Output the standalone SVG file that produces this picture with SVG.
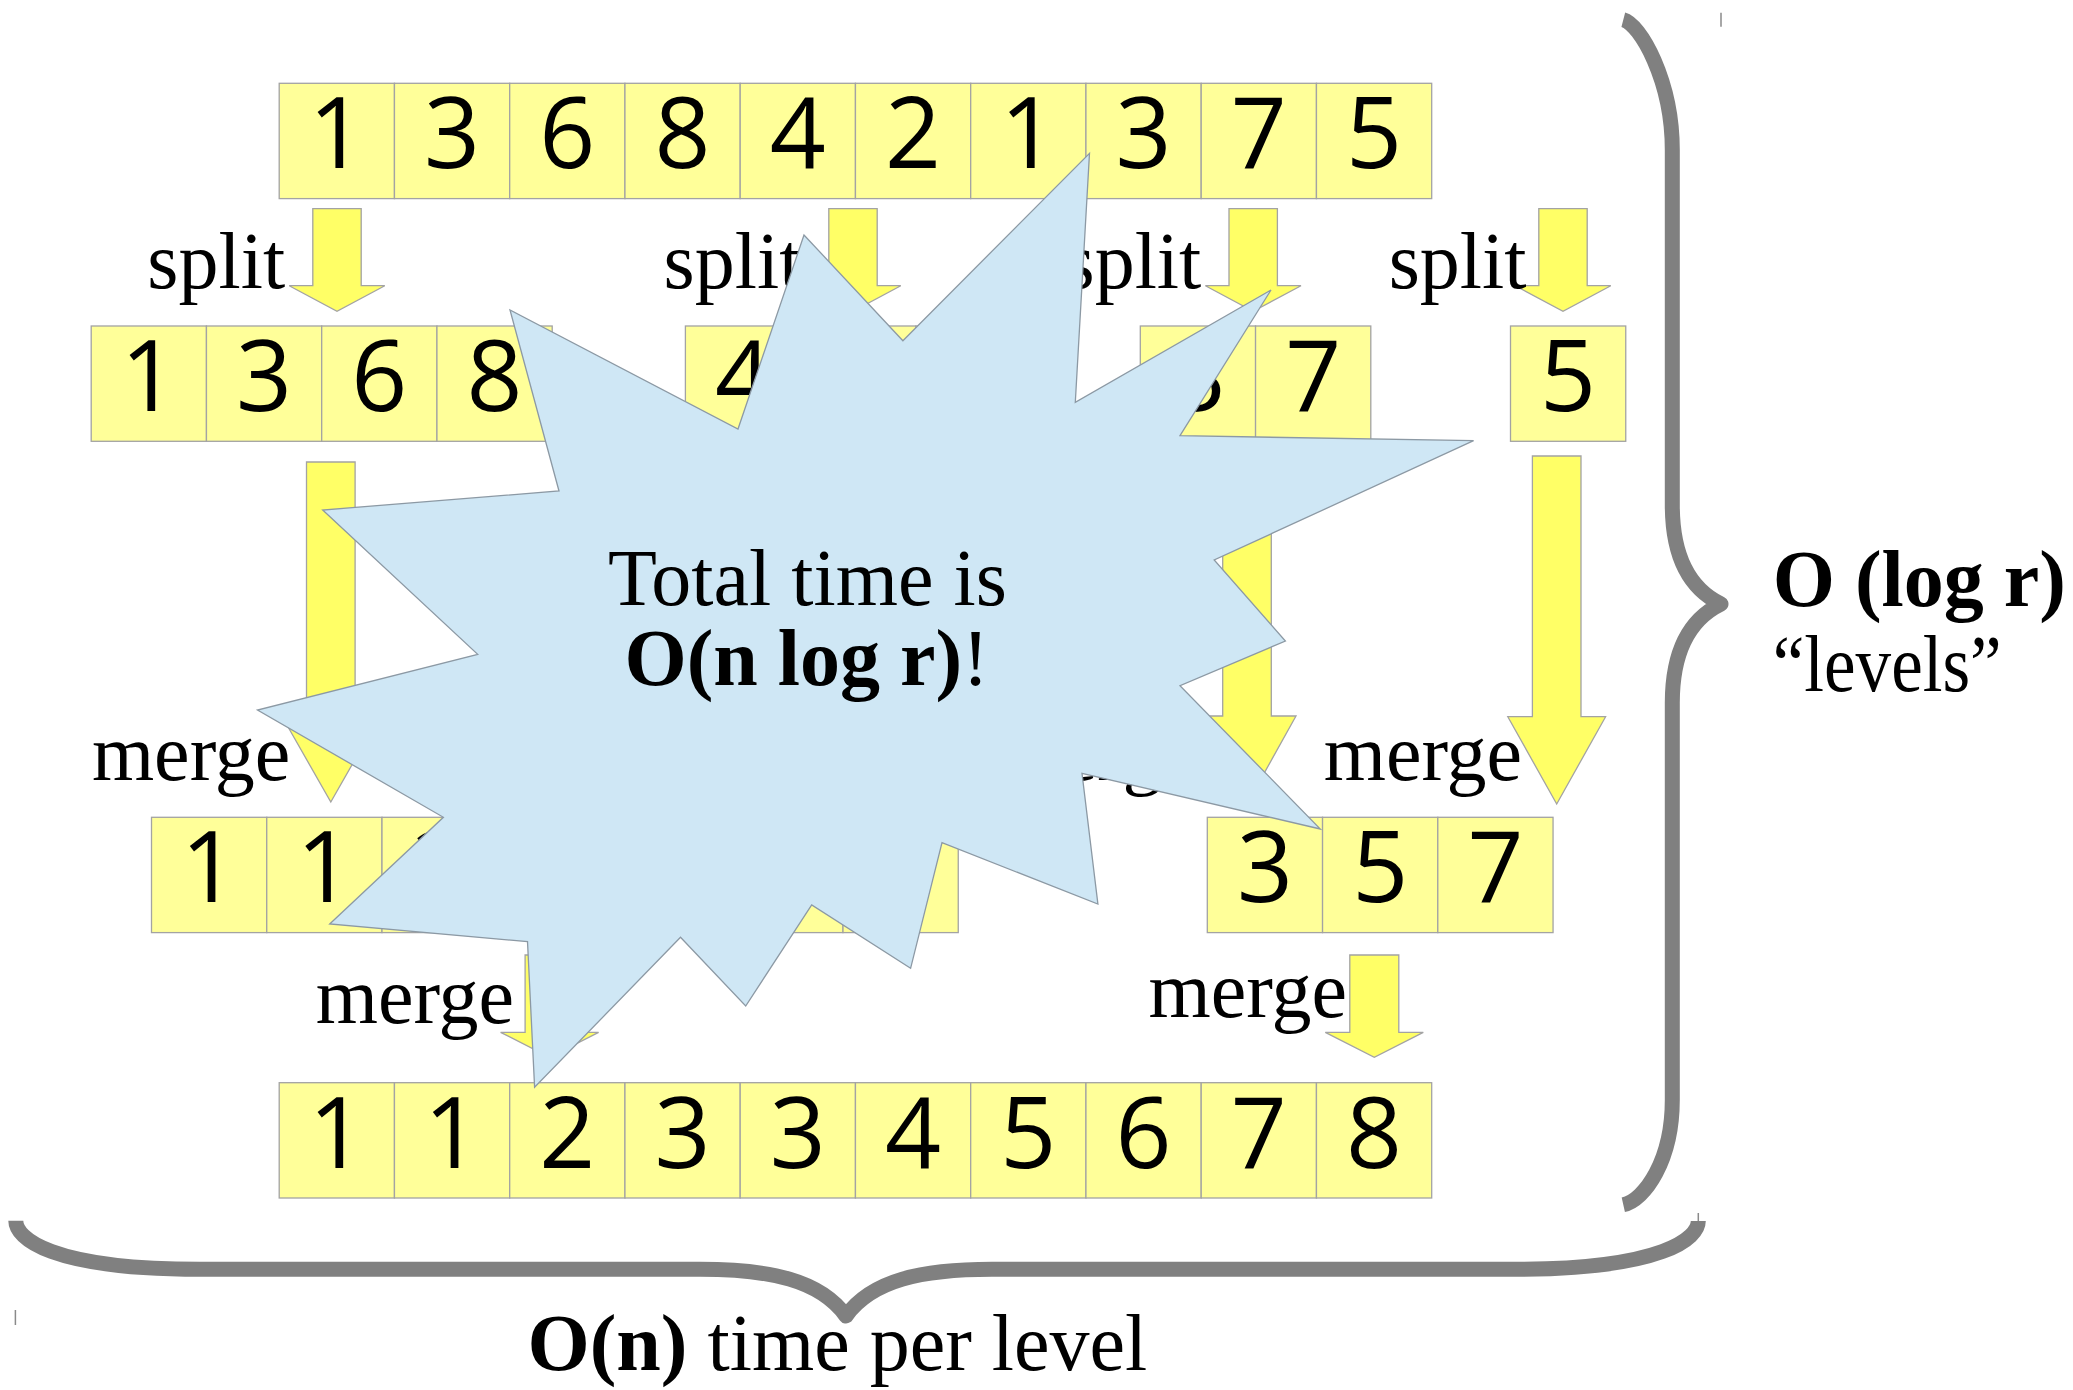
<svg xmlns="http://www.w3.org/2000/svg" width="2073" height="1390" viewBox="0 0 2073 1390">
<style>
.c{fill:#ffff99;stroke:#a3a3a3;stroke-width:1.3}
.d{font-family:"Open Sans","Noto Sans",sans-serif;font-size:98px;fill:#000;text-anchor:middle}
.a{fill:#ffff66;stroke:#a3a3a3;stroke-width:1.3}
.l{font-family:"Liberation Serif","Times New Roman",serif;font-size:80px;fill:#000}
.b{font-weight:bold}
.br{fill:none;stroke:#808080;stroke-width:15;stroke-linejoin:round}
.tk{stroke:#8a8a8a;stroke-width:1.5}
</style>
<defs>
<g id="cell"><rect class="c" x="0" y="0" width="115.25" height="115.3"/></g>
</defs>
<rect width="2073" height="1390" fill="#fff"/>

<!-- Row 1 -->
<g id="row1">
<use href="#cell" x="279.2" y="83.3"/><use href="#cell" x="394.45" y="83.3"/><use href="#cell" x="509.7" y="83.3"/><use href="#cell" x="624.95" y="83.3"/><use href="#cell" x="740.2" y="83.3"/><use href="#cell" x="855.45" y="83.3"/><use href="#cell" x="970.7" y="83.3"/><use href="#cell" x="1085.95" y="83.3"/><use href="#cell" x="1201.2" y="83.3"/><use href="#cell" x="1316.45" y="83.3"/>
<text class="d" y="168.3"><tspan x="336.8">1</tspan><tspan x="452.1">3</tspan><tspan x="567.3">6</tspan><tspan x="682.6">8</tspan><tspan x="797.8">4</tspan><tspan x="913.1">2</tspan><tspan x="1028.3">1</tspan><tspan x="1143.6">3</tspan><tspan x="1258.8">7</tspan><tspan x="1374.1">5</tspan></text>
</g>

<!-- Row 2 -->
<g id="row2-a">
<use href="#cell" x="91.2" y="326"/><use href="#cell" x="206.45" y="326"/><use href="#cell" x="321.7" y="326"/><use href="#cell" x="436.95" y="326"/>
<text class="d" y="411"><tspan x="148.8">1</tspan><tspan x="264.1">3</tspan><tspan x="379.3">6</tspan><tspan x="494.6">8</tspan></text>
</g>
<g id="row2-b">
<use href="#cell" x="685.4" y="326"/><use href="#cell" x="800.65" y="326"/><use href="#cell" x="915.9" y="326"/>
<text class="d" y="411"><tspan x="743">4</tspan><tspan x="858.3">2</tspan><tspan x="973.5">1</tspan></text>
</g>
<g id="row2-c">
<use href="#cell" x="1140.3" y="326"/><use href="#cell" x="1255.55" y="326"/>
<text class="d" y="411"><tspan x="1197.9">3</tspan><tspan x="1313.2">7</tspan></text>
</g>
<g id="row2-d">
<use href="#cell" x="1510.5" y="326"/>
<text class="d" y="411" x="1568.1">5</text>
</g>

<!-- Row 3 -->
<g id="row3-a">
<use href="#cell" x="151.5" y="817.3"/><use href="#cell" x="266.75" y="817.3"/><use href="#cell" x="382" y="817.3"/><use href="#cell" x="497.25" y="817.3"/><use href="#cell" x="612.5" y="817.3"/><use href="#cell" x="727.75" y="817.3"/><use href="#cell" x="843" y="817.3"/>
<text class="d" y="902.3"><tspan x="209.1">1</tspan><tspan x="324.4">1</tspan><tspan x="439.6">2</tspan><tspan x="554.9">3</tspan><tspan x="670.1">4</tspan><tspan x="785.4">6</tspan><tspan x="900.6">8</tspan></text>
</g>
<g id="row3-b">
<use href="#cell" x="1207.3" y="817.3"/><use href="#cell" x="1322.55" y="817.3"/><use href="#cell" x="1437.8" y="817.3"/>
<text class="d" y="902.3"><tspan x="1264.9">3</tspan><tspan x="1380.2">5</tspan><tspan x="1495.4">7</tspan></text>
</g>

<!-- Row 4 -->
<g id="row4">
<use href="#cell" x="279.2" y="1082.7"/><use href="#cell" x="394.45" y="1082.7"/><use href="#cell" x="509.7" y="1082.7"/><use href="#cell" x="624.95" y="1082.7"/><use href="#cell" x="740.2" y="1082.7"/><use href="#cell" x="855.45" y="1082.7"/><use href="#cell" x="970.7" y="1082.7"/><use href="#cell" x="1085.95" y="1082.7"/><use href="#cell" x="1201.2" y="1082.7"/><use href="#cell" x="1316.45" y="1082.7"/>
<text class="d" y="1167.7"><tspan x="336.8">1</tspan><tspan x="452.1">1</tspan><tspan x="567.3">2</tspan><tspan x="682.6">3</tspan><tspan x="797.8">3</tspan><tspan x="913.1">4</tspan><tspan x="1028.3">5</tspan><tspan x="1143.6">6</tspan><tspan x="1258.8">7</tspan><tspan x="1374.1">8</tspan></text>
</g>

<!-- Connectors -->
<g id="connectors">
<path class="a" d="M312.8,208.7 H361.2 V285.7 H384.8 L337,311.3 L289.2,285.7 H312.8 Z"/>
<path class="a" d="M828.8,208.7 H877.2 V285.7 H900.8 L853,311.3 L805.2,285.7 H828.8 Z"/>
<path class="a" d="M1229,208.7 H1277.4 V285.7 H1301 L1253.2,311.3 L1205.4,285.7 H1229 Z"/>
<path class="a" d="M1538.8,208.7 H1587.2 V285.7 H1610.8 L1563,311.3 L1515.2,285.7 H1538.8 Z"/>
<path class="a" d="M306.5,462 H355.1 V716 H379.8 L330.8,802 L281.8,716 H306.5 Z"/>
<path class="a" d="M1222.7,459 H1271.3 V716 H1296 L1247,804 L1198,716 H1222.7 Z"/>
<path class="a" d="M1532.4,456 H1581 V716.7 H1605.6 L1556.7,804 L1507.8,716.7 H1532.4 Z"/>
<path class="a" d="M525.1,955 H574.1 V1032.3 H598.6 L549.6,1057.3 L500.6,1032.3 H525.1 Z"/>
<path class="a" d="M1349.8,955 H1398.8 V1032.3 H1423.3 L1374.3,1057.3 L1325.3,1032.3 H1349.8 Z"/>
</g>

<!-- Labels -->
<g id="labels">
<text class="l" x="147.3" y="288.3">split</text>
<text class="l" x="663.6" y="288.3">split</text>
<text class="l" x="1063.5" y="288.3">split</text>
<text class="l" x="1388.7" y="288.3">split</text>
<text class="l" x="91.9" y="780">merge</text>
<text class="l" x="999.5" y="780">merge</text>
<text class="l" x="1323.7" y="780">merge</text>
<text class="l" x="315.7" y="1023">merge</text>
<text class="l" x="1148.5" y="1017">merge</text>
</g>

<!-- Star callout -->
<g id="star">
<polygon fill="#cfe7f5" stroke="#8c99a4" stroke-width="1.3" stroke-linejoin="miter" points="1089.5,153.3 1075.3,402.3 1271,290 1180,435.7 1473.6,440.7 1214.2,560 1285.4,641 1180,685.7 1320.3,829 1082,773.3 1097.9,904 942,842.7 910.6,968.3 811.7,905 745.7,1006 680.5,937.3 534.6,1087.3 527.5,941.7 329.7,924 443.4,817.3 257.5,710 477.7,654.3 322.7,510 559,491 510,310 738,429 804,235 902.9,340.7"/>
<text class="l" x="807.4" y="605" text-anchor="middle">Total time is</text>
<text class="l" x="806.7" y="685" text-anchor="middle"><tspan class="b">O(n log r)</tspan>!</text>
</g>

<!-- Right brace -->
<g id="brace-right">
<path class="br" d="M1623.3,19.7 C1640,24 1672.3,80 1672.3,150 L1672.3,505 C1672.3,545 1682,585 1721,604 C1682,623 1672.3,663 1672.3,703 L1672.3,1100 C1672.3,1160 1645,1200 1623.3,1204.8"/>
<line class="tk" x1="1721" y1="12.7" x2="1721" y2="26.7"/>
<text class="l b" x="1772.7" y="606">O (log r)</text>
<text class="l" x="1772.7" y="691" font-size="74" textLength="229" lengthAdjust="spacingAndGlyphs">“levels”</text>
</g>

<!-- Bottom brace -->
<g id="brace-bottom">
<path class="br" d="M15.8,1220.7 C15.8,1238 50,1269.3 200,1269.3 L700,1269.3 C770,1269.3 820,1280 846,1316 C872,1280 922,1269.3 992,1269.3 L1514,1269.3 C1664,1269.3 1698.3,1238 1698.3,1221"/>
<line class="tk" x1="1698.3" y1="1213" x2="1698.3" y2="1221"/>
<line class="tk" x1="15.4" y1="1310" x2="15.4" y2="1325"/>
<text class="l" x="527.5" y="1370" font-size="81"><tspan class="b">O(n)</tspan> time per level</text>
</g>
</svg>
